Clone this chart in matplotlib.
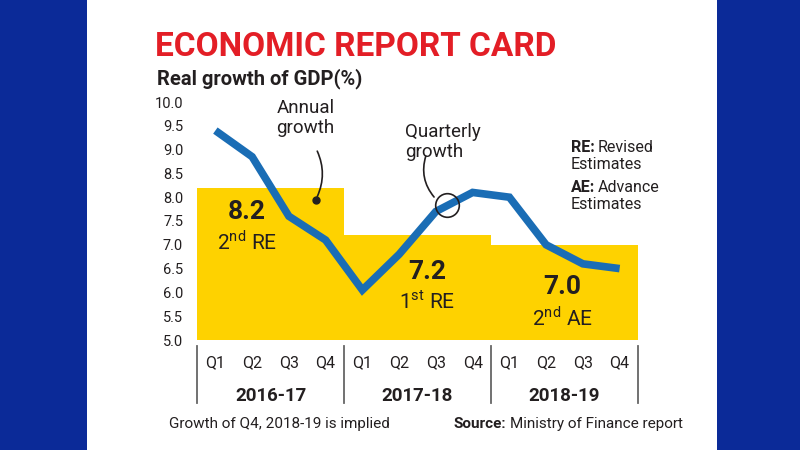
import matplotlib as mpl
mpl.use('Agg')
import matplotlib.pyplot as plt
from matplotlib.patches import Rectangle
import numpy as np

plt.rcParams['font.family'] = ['Roboto', 'DejaVu Sans']
plt.rcParams['mathtext.fontset'] = 'custom'
plt.rcParams['mathtext.rm'] = 'Roboto'

years = ['2016-17', '2017-18', '2018-19']
annual_growth = [8.2, 7.2, 7.0]
annual_notes = ['2$^{\\rm nd}$ RE', '1$^{\\rm st}$ RE', '2$^{\\rm nd}$ AE']
quarters = ['Q1', 'Q2', 'Q3', 'Q4'] * 3
quarterly_growth = [9.4, 8.85, 7.6, 7.1, 6.05, 6.8, 7.7, 8.1, 8.0, 7.0, 6.6, 6.5]
yticks = [5.0, 5.5, 6.0, 6.5, 7.0, 7.5, 8.0, 8.5, 9.0, 9.5, 10.0]

# where the value labels sit inside each block (x offset from block start, y of value)
label_x = [1.36, 2.26, 1.93]
label_y = [7.69, 6.43, 6.11]

YELLOW = '#fed200'
BLUE = '#1a6db5'
INK = '#231f20'

W, H = 800, 450
fig = plt.figure(figsize=(8, 4.5), dpi=100, facecolor='#0b2a98')
fig.patches.append(Rectangle((87 / W, 0), 630 / W, 1, transform=fig.transFigure,
                             facecolor='white', edgecolor='none', zorder=-5))

def px(x, y):
    return x / W, 1 - y / H

ax = fig.add_axes([197 / W, 1 - 340 / H, 441 / W, 238 / H])
ax.set_zorder(2)
ax.set_facecolor('none')
for s in ax.spines.values():
    s.set_visible(False)

# annual blocks
starts = np.arange(len(years)) * 4
ax.bar(starts, np.array(annual_growth) - 5, width=4, bottom=5, align='edge',
       color=YELLOW, zorder=1)

# quarterly line
qx = np.arange(len(quarterly_growth)) + 0.5
ax.plot(qx, quarterly_growth, color=BLUE, lw=5.5, solid_joinstyle='miter',
        solid_capstyle='butt', zorder=3)

ax.set_xlim(0, 12)
ax.set_ylim(5, 10)
ax.set_yticks(yticks)
ax.set_yticklabels([f'{v:.1f}' for v in yticks], fontsize=10.5, color=INK)
ax.set_xticks(qx)
ax.set_xticklabels(quarters, fontsize=11.5, color=INK)
ax.tick_params(axis='both', length=0)
ax.tick_params(axis='y', pad=10)
ax.tick_params(axis='x', pad=11)

trans = ax.get_xaxis_transform()
for i, yr in enumerate(years):
    ax.text(starts[i] + 2, -0.235, yr, transform=trans, ha='center', va='center',
            fontsize=13.5, weight='bold', color=INK)
    ax.text(starts[i] + label_x[i], label_y[i], f'{annual_growth[i]:.1f}',
            ha='center', va='center', fontsize=19, weight='bold', color=INK, zorder=4)
    ax.text(starts[i] + label_x[i], label_y[i] - 0.63, annual_notes[i],
            ha='center', va='center', fontsize=15, color=INK, zorder=4)
for xs in range(0, 13, 4):
    ax.plot([xs, xs], [-0.025, -0.265], transform=trans, color='#666666',
            lw=1.3, clip_on=False)

# annotations
ax.text(2.95, 9.66, 'Annual\ngrowth', ha='center', va='center', fontsize=13.5,
        color=INK, linespacing=1.15)
ax.plot([3.24], [7.94], 'o', color=INK, ms=5, zorder=4)
ax.annotate('', xy=(3.24, 7.96), xytext=(3.24, 9.02),
            arrowprops=dict(arrowstyle='-', color=INK, lw=1.2,
                            connectionstyle='arc3,rad=-0.25'))
ax.text(5.66, 9.16, 'Quarterly\ngrowth', ha='left', va='center', fontsize=13.5,
        color=INK, linespacing=1.15)
ax.plot([6.8], [7.84], 'o', ms=17, mfc='none', mec=INK, mew=1.2, zorder=4)
ax.annotate('', xy=(6.5, 7.96), xytext=(6.25, 8.92),
            arrowprops=dict(arrowstyle='-', color=INK, lw=1.2,
                            connectionstyle='arc3,rad=0.3'))

# titles
fig.text(*px(155, 47), 'ECONOMIC REPORT CARD', color='#e31e26', fontsize=24,
         weight='bold', va='center', ha='left')
fig.text(*px(157, 79), 'Real growth of GDP(%)', color=INK, fontsize=14.5,
         weight='bold', va='center', ha='left')

def mixed(x, y, bold, rest, size):
    t = fig.text(*px(x, y), bold, fontsize=size, weight='bold', color=INK,
                 va='baseline', ha='left')
    fig.canvas.draw()
    bb = t.get_window_extent()
    fig.text(bb.x1 / W + 3 / W, px(x, y)[1], rest, fontsize=size, color=INK,
             va='baseline', ha='left')
    return t

mixed(571, 152, 'RE:', 'Revised', 11.5)
fig.text(*px(571, 169), 'Estimates', fontsize=11.5, color=INK, va='baseline')
mixed(571, 192, 'AE:', 'Advance', 11.5)
fig.text(*px(571, 209), 'Estimates', fontsize=11.5, color=INK, va='baseline')

fig.text(*px(169, 424), 'Growth of Q4, 2018-19 is implied', fontsize=11,
         color=INK, va='center')
mixed(454, 428, 'Source:', 'Ministry of Finance report', 11)

fig.savefig('out.png', dpi=100, facecolor=fig.get_facecolor())
